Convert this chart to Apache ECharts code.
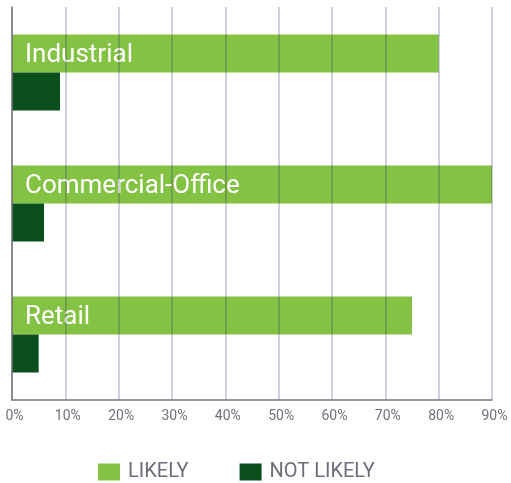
<!DOCTYPE html>
<html>
<head>
<meta charset="utf-8">
<script src="https://cdn.jsdelivr.net/npm/echarts@6/dist/echarts.min.js"></script>
<style>
  html, body { margin: 0; padding: 0; background: #ffffff; }
  #chart { width: 511px; height: 483px; }
</style>
</head>
<body>
<div id="chart"></div>
<script>
// Sectors, top to bottom
const categories = ['Industrial', 'Commercial-Office', 'Retail'];
// Share of respondents, percent
const likely = [80, 90, 75];
const notLikely = [9, 6, 5];
const seriesNames = ['LIKELY', 'NOT LIKELY'];

const chart = echarts.init(document.getElementById('chart'));

chart.setOption({
  backgroundColor: '#ffffff',
  animation: false,
  textStyle: { fontFamily: 'Roboto' },
  grid: { left: 12, right: 19, top: 7, bottom: 83, containLabel: false },
  legend: {
    data: seriesNames,
    left: 93,
    top: 457,
    itemWidth: 22,
    itemHeight: 17,
    itemGap: 51,
    icon: 'rect',
    textStyle: { color: '#6c6f7b', fontSize: 20, fontFamily: 'Roboto', padding: [0, 0, 0, 3] }
  },
  xAxis: {
    type: 'value',
    min: 0,
    max: 90,
    interval: 10,
    z: 5,
    axisLine: { show: true, lineStyle: { color: '#76767c', width: 1.5 } },
    axisTick: { show: false },
    axisLabel: {
      formatter: '{value}%',
      color: '#70727c',
      fontSize: 14,
      margin: 9,
      padding: [0, 0, 0, 5]
    },
    splitLine: { show: true, lineStyle: { color: 'rgba(40,40,95,0.22)', width: 2 } }
  },
  yAxis: {
    type: 'category',
    data: categories,
    inverse: true,
    z: 5,
    axisLine: { show: true, lineStyle: { color: '#76767c', width: 1.5 } },
    axisTick: { show: false },
    axisLabel: { show: false },
    splitLine: { show: false }
  },
  series: [
    {
      name: seriesNames[0],
      type: 'bar',
      data: likely,
      barWidth: 38,
      barGap: '0%',
      itemStyle: { color: '#83c243' },
      label: {
        show: true,
        position: 'insideLeft',
        distance: 13,
        offset: [0, 2],
        formatter: '{b}',
        color: '#ffffff',
        fontSize: 26,
        fontFamily: 'Roboto'
      }
    },
    {
      name: seriesNames[1],
      type: 'bar',
      data: notLikely,
      barWidth: 38,
      barGap: '0%',
      itemStyle: { color: '#0b4f1c' }
    }
  ]
});
</script>
</body>
</html>
